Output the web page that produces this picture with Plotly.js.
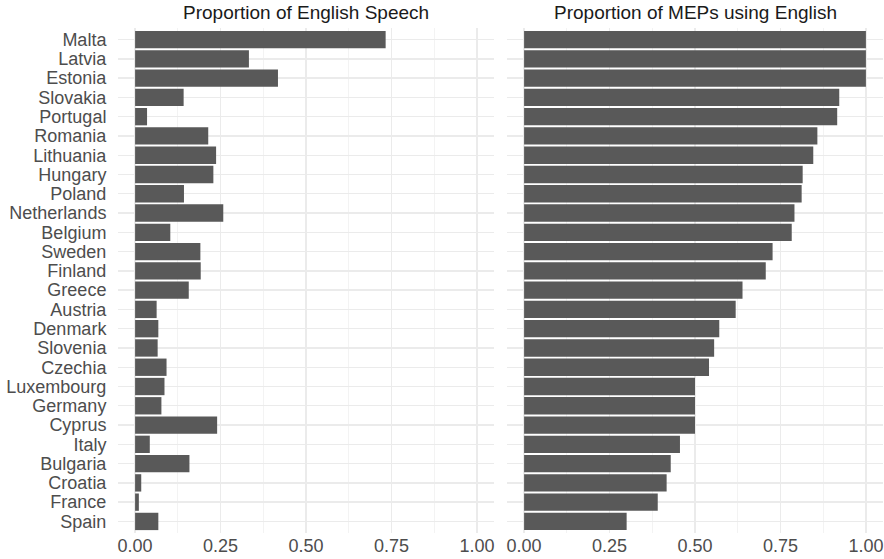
<!DOCTYPE html>
<html><head><meta charset="utf-8">
<script src="https://cdn.plot.ly/plotly-3.0.1.min.js"></script>
<style>html,body{margin:0;padding:0;background:#fff}#chart{width:884px;height:559px}</style>
</head><body><div id="chart"></div>
<script>
var countries = ["Malta","Latvia","Estonia","Slovakia","Portugal","Romania","Lithuania","Hungary","Poland","Netherlands","Belgium","Sweden","Finland","Greece","Austria","Denmark","Slovenia","Czechia","Luxembourg","Germany","Cyprus","Italy","Bulgaria","Croatia","France","Spain"];
var englishSpeech = [0.733,0.333,0.418,0.142,0.035,0.214,0.237,0.229,0.143,0.258,0.103,0.191,0.192,0.157,0.063,0.068,0.066,0.092,0.086,0.077,0.240,0.043,0.159,0.018,0.011,0.068];
var mepsEnglish = [1.0,1.0,1.0,0.922,0.916,0.858,0.846,0.815,0.812,0.791,0.783,0.727,0.707,0.639,0.619,0.571,0.556,0.541,0.5,0.5,0.5,0.456,0.429,0.417,0.391,0.300];
var xTicks = [0,0.25,0.5,0.75,1];
var xTickLabels = ["0.00","0.25","0.50","0.75","1.00"];
var panelTitles = ["Proportion of English Speech","Proportion of MEPs using English"];

var font = "Liberation Sans, Arial, Helvetica, sans-serif";
var bar = {type:"bar", orientation:"h", width:0.9, marker:{color:"#595959", line:{width:0}}, hoverinfo:"x+y"};
var traces = [
  Object.assign({}, bar, {x:englishSpeech, y:countries, xaxis:"x", yaxis:"y"}),
  Object.assign({}, bar, {x:mepsEnglish, y:countries, xaxis:"x2", yaxis:"y2"})
];
function xax(domain){
  return {domain:domain, range:[-0.05,1.05], tickmode:"array", tickvals:xTicks, ticktext:xTickLabels,
    showgrid:true, gridcolor:"#ebebeb", gridwidth:1.4, zeroline:false, showline:false,
    ticks:"", ticklen:0,
    minor:{dtick:0.125, tick0:0.125, showgrid:true, gridcolor:"#f0f0f0", gridwidth:0.8},
    tickfont:{family:font, size:18, color:"#4d4d4d"}, fixedrange:true};
}
function yax(show, anchor){
  return {type:"category", categoryorder:"array", categoryarray:countries, range:[25.6,-0.6],
    tickmode:"array", tickvals:countries, ticktext:countries,
    showgrid:true, gridcolor:"#ebebeb", gridwidth:1.4, zeroline:false, showline:false,
    showticklabels:show, ticks:"outside", ticklen:7, tickcolor:"rgba(0,0,0,0)", anchor:anchor,
    tickfont:{family:font, size:18, color:"#4d4d4d"}, fixedrange:true};
}
var layout = {
  width:884, height:559, margin:{l:118, r:1, t:28, b:26},
  paper_bgcolor:"#fff", plot_bgcolor:"#fff", showlegend:false, bargap:0.1,
  xaxis:xax([0,0.4915]), xaxis2:xax([0.5085,1]),
  yaxis:yax(true,"x"), yaxis2:yax(false,"x2"),
  annotations:[
    {text:panelTitles[0], xref:"x domain", yref:"paper", x:0.5, y:1, yshift:3, xanchor:"center", yanchor:"bottom", showarrow:false, font:{family:font, size:19, color:"#1a1a1a"}},
    {text:panelTitles[1], xref:"x2 domain", yref:"paper", x:0.5, y:1, yshift:3, xanchor:"center", yanchor:"bottom", showarrow:false, font:{family:font, size:19, color:"#1a1a1a"}}
  ]
};
Plotly.newPlot("chart", traces, layout, {displayModeBar:false, staticPlot:true});
</script></body></html>
